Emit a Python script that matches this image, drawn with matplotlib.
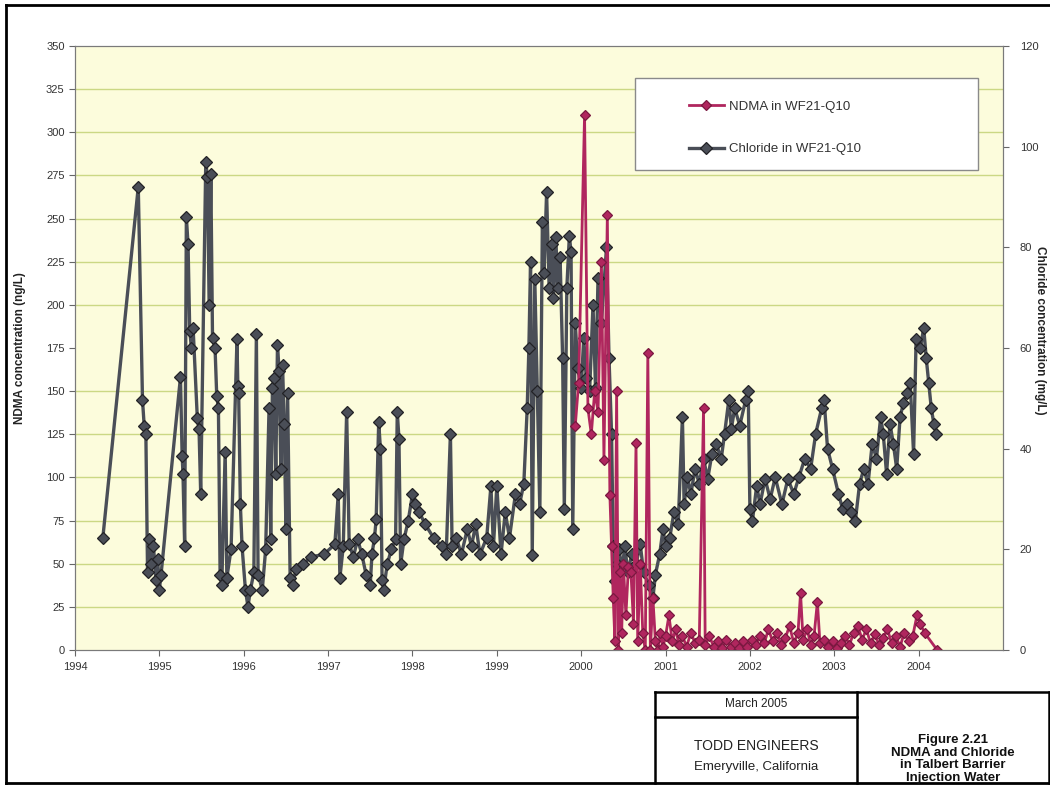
import matplotlib.pyplot as plt
from matplotlib.patches import Rectangle
from matplotlib.lines import Line2D
from matplotlib.ticker import FixedLocator, NullFormatter

plt.rcParams['font.family'] = ['Liberation Sans', 'DejaVu Sans']

# Chloride in WF21-Q10 (mg/L), decimal years
cl_year = [1994.33, 1994.75, 1994.80, 1994.82, 1994.84, 1994.86, 1994.88, 1994.90, 1994.93, 1994.96,
           1994.98, 1995.00, 1995.02, 1995.25, 1995.27, 1995.28, 1995.30, 1995.32, 1995.34, 1995.36,
           1995.38, 1995.40, 1995.45, 1995.47, 1995.49, 1995.55, 1995.57, 1995.59, 1995.61, 1995.63,
           1995.66, 1995.68, 1995.70, 1995.72, 1995.74, 1995.78, 1995.80, 1995.85, 1995.92, 1995.93,
           1995.94, 1995.96, 1995.98, 1996.02, 1996.05, 1996.08, 1996.12, 1996.15, 1996.17, 1996.22,
           1996.26, 1996.30, 1996.32, 1996.34, 1996.36, 1996.38, 1996.40, 1996.42, 1996.44, 1996.46,
           1996.48, 1996.50, 1996.52, 1996.55, 1996.58, 1996.62, 1996.70, 1996.80, 1996.95, 1997.08,
           1997.12, 1997.14, 1997.18, 1997.22, 1997.25, 1997.30, 1997.35, 1997.40, 1997.45, 1997.50,
           1997.52, 1997.55, 1997.57, 1997.60, 1997.62, 1997.64, 1997.66, 1997.70, 1997.75, 1997.80,
           1997.82, 1997.84, 1997.86, 1997.90, 1997.95, 1998.00, 1998.03, 1998.08, 1998.15, 1998.25,
           1998.35, 1998.40, 1998.45, 1998.47, 1998.52, 1998.58, 1998.65, 1998.70, 1998.75, 1998.80,
           1998.88, 1998.93, 1998.96, 1999.00, 1999.05, 1999.10, 1999.15, 1999.22, 1999.27, 1999.32,
           1999.36, 1999.38, 1999.40, 1999.42, 1999.45, 1999.48, 1999.51, 1999.54, 1999.56, 1999.59,
           1999.62, 1999.65, 1999.67, 1999.70, 1999.72, 1999.75, 1999.78, 1999.80, 1999.83, 1999.86,
           1999.88, 1999.90, 1999.93, 1999.96, 2000.00, 2000.03, 2000.06, 2000.10, 2000.14, 2000.17,
           2000.20, 2000.24, 2000.30, 2000.33, 2000.36, 2000.38, 2000.40, 2000.42, 2000.45, 2000.48,
           2000.52, 2000.55, 2000.60, 2000.65, 2000.70, 2000.74, 2000.80, 2000.85, 2000.88, 2000.93,
           2000.97, 2001.00, 2001.05, 2001.10, 2001.15, 2001.20, 2001.22, 2001.26, 2001.30, 2001.35,
           2001.40, 2001.45, 2001.50, 2001.55, 2001.60, 2001.66, 2001.70, 2001.75, 2001.78, 2001.82,
           2001.88, 2001.95, 2001.98, 2002.00, 2002.03, 2002.08, 2002.12, 2002.18, 2002.24, 2002.30,
           2002.38, 2002.45, 2002.52, 2002.58, 2002.65, 2002.72, 2002.78, 2002.85, 2002.88, 2002.92,
           2002.98, 2003.05, 2003.10, 2003.15, 2003.20, 2003.25, 2003.30, 2003.35, 2003.40, 2003.45,
           2003.50, 2003.55, 2003.58, 2003.62, 2003.66, 2003.70, 2003.74, 2003.78, 2003.82, 2003.86,
           2003.90, 2003.94, 2003.97, 2004.02, 2004.06, 2004.09, 2004.12, 2004.15, 2004.18, 2004.21]
cl_val = [22.3, 92.0, 49.7, 44.6, 43.0, 15.4, 22.0, 17.0, 20.6, 14.0,
          18.0, 12.0, 15.0, 54.2, 38.5, 35.0, 20.6, 86.0, 80.6, 63.4,
          60.0, 64.0, 46.0, 44.0, 31.0, 97.0, 94.0, 68.6, 94.5, 62.0,
          60.0, 50.5, 48.0, 15.0, 13.0, 39.4, 14.4, 20.0, 61.7, 52.5,
          51.0, 29.0, 20.6, 12.0, 8.6, 12.0, 15.4, 62.8, 15.0, 12.0,
          20.0, 48.0, 22.0, 52.0, 54.0, 35.0, 60.5, 55.5, 36.0, 56.6,
          45.0, 24.0, 51.0, 14.4, 13.0, 16.0, 17.0, 18.5, 19.0, 21.0,
          30.9, 14.4, 20.6, 47.3, 21.0, 18.5, 22.0, 19.0, 15.0, 13.0,
          19.0, 22.3, 26.0, 45.3, 40.0, 14.0, 12.0, 17.0, 20.0, 22.0,
          47.3, 42.0, 17.0, 22.0, 25.7, 30.9, 29.0, 27.4, 25.0, 22.3,
          20.6, 19.0, 43.0, 20.6, 22.3, 19.0, 24.0, 20.6, 25.0, 19.0,
          22.3, 32.6, 20.6, 32.6, 19.0, 27.4, 22.3, 30.9, 29.0, 33.0,
          48.0, 60.0, 77.1, 18.9, 73.7, 51.4, 27.4, 85.0, 75.0, 90.9,
          72.0, 80.6, 70.0, 82.0, 72.0, 78.0, 58.0, 28.0, 72.0, 82.3,
          79.0, 24.0, 65.0, 56.0, 52.0, 62.0, 54.0, 51.4, 68.6, 52.0,
          74.0, 65.0, 80.0, 58.0, 43.0, 20.6, 13.7, 17.0, 20.0, 16.0,
          20.6, 15.4, 19.0, 17.0, 21.0, 15.4, 13.0, 10.3, 15.0, 19.0,
          24.0, 20.6, 22.3, 27.4, 25.0, 46.3, 29.0, 34.3, 31.0, 36.0,
          33.0, 38.0, 34.0, 39.0, 41.0, 38.0, 43.0, 49.7, 44.0, 48.0,
          44.6, 49.7, 51.4, 28.0, 25.7, 32.6, 29.0, 34.0, 30.0, 34.3,
          29.0, 34.0, 31.0, 34.3, 38.0, 36.0, 43.0, 48.0, 49.7, 40.0,
          36.0, 31.0, 28.0, 29.0, 27.4, 25.7, 33.0, 36.0, 33.0, 41.0,
          38.0, 46.3, 43.0, 35.0, 45.0, 41.0, 36.0, 46.3, 49.0, 51.0,
          53.0, 39.0, 61.7, 60.0, 64.0, 58.0, 53.0, 48.0, 45.0, 43.0]

# NDMA in WF21-Q10 (ng/L)
nd_year = [1999.93, 1999.97, 2000.04, 2000.08, 2000.12, 2000.16, 2000.20, 2000.24, 2000.27, 2000.31,
           2000.34, 2000.36, 2000.38, 2000.40, 2000.42, 2000.44, 2000.46, 2000.48, 2000.50, 2000.53,
           2000.56, 2000.59, 2000.62, 2000.65, 2000.67, 2000.70, 2000.73, 2000.76, 2000.79, 2000.82,
           2000.85, 2000.88, 2000.91, 2000.94, 2000.97, 2001.00, 2001.04, 2001.08, 2001.12, 2001.16,
           2001.20, 2001.25, 2001.30, 2001.35, 2001.40, 2001.45, 2001.47, 2001.52, 2001.57, 2001.62,
           2001.67, 2001.72, 2001.77, 2001.82, 2001.87, 2001.92, 2001.97, 2002.02, 2002.07, 2002.12,
           2002.17, 2002.22, 2002.27, 2002.32, 2002.37, 2002.42, 2002.47, 2002.52, 2002.57, 2002.60,
           2002.63, 2002.68, 2002.72, 2002.76, 2002.80, 2002.83, 2002.88, 2002.93, 2002.98, 2003.03,
           2003.08, 2003.13, 2003.18, 2003.23, 2003.28, 2003.33, 2003.38, 2003.43, 2003.48, 2003.53,
           2003.58, 2003.63, 2003.68, 2003.73, 2003.78, 2003.83, 2003.88, 2003.93, 2003.98, 2004.02,
           2004.07, 2004.22]
nd_val = [130, 155, 310, 140, 125, 150, 138, 225, 110, 252,
          90, 60, 30, 5, 150, 0, 45, 10, 50, 20,
          48, 45, 15, 120, 5, 50, 10, 0, 172, 0,
          30, 5, 0, 10, 2, 8, 20, 5, 12, 3,
          8, 2, 10, 4, 6, 140, 3, 8, 2, 5,
          1, 6, 2, 4, 1, 5, 2, 6, 3, 8,
          4, 12, 5, 10, 3, 7, 14, 4, 10, 33,
          6, 12, 3, 8, 28, 4, 6, 2, 5, 1,
          4, 8, 3, 10, 14, 6, 12, 4, 9, 3,
          7, 12, 4, 8, 2, 10, 5, 8, 20, 15,
          10, 0]

year_ticks = list(range(1994, 2005))
ndma_ticks = list(range(0, 351, 25))
cl_ticks = list(range(0, 121, 20))

W, H = 1050, 785
fig = plt.figure(figsize=(W / 100, H / 100), dpi=100)


def fx(x):
    return x / W


def fy(y):
    return 1 - y / H


ax = fig.add_axes([fx(75), fy(650), (1003 - 75) / W, (650 - 46) / H])
ax2 = ax.twinx()
# NDMA drawn on top, background + grid carried by the chloride axes
ax.set_zorder(ax2.get_zorder() + 1)
ax.patch.set_visible(False)
ax2.patch.set_visible(True)
ax2.patch.set_facecolor('#fcfcdc')

gray = '#4a4e57'
red = '#b0265e'
l_cl, = ax2.plot(cl_year, cl_val, color=gray, lw=2.4, marker='D', ms=6,
                 mfc=gray, mec='#222226', mew=0.9, label='Chloride in WF21-Q10')
l_nd, = ax.plot(nd_year, nd_val, color=red, lw=2.0, marker='D', ms=5.5,
                mfc=red, mec='#7a1840', mew=0.9, label='NDMA in WF21-Q10')

ax.set_xlim(1994, 2005)
ax.set_ylim(0, 350)
ax2.set_ylim(0, 120)

ax.set_xticks(year_ticks)
ax.set_yticks(ndma_ticks)
ax2.set_yticks(cl_ticks)

# horizontal grid at the NDMA ticks, drawn behind everything
ax2.yaxis.set_minor_locator(FixedLocator([v * 120 / 350 for v in ndma_ticks]))
ax2.yaxis.set_minor_formatter(NullFormatter())
ax2.tick_params(axis='y', which='minor', length=0)
ax2.grid(which='minor', axis='y', color='#cbd884', lw=1.0)

for a in (ax, ax2):
    for s in a.spines.values():
        s.set_color('#7a7a7a')
ax.tick_params(axis='both', direction='out', length=4, width=0.8, color='#666666',
               labelsize=8, labelcolor='#333333')
ax.tick_params(axis='x', pad=5)
ax2.tick_params(axis='y', which='major', direction='out', length=4, width=0.8,
                color='#666666', labelsize=8, labelcolor='#333333', pad=8)

ax.set_ylabel('NDMA concentration (ng/L)', fontsize=8.5, fontweight='bold', color='#222222')
ax.yaxis.set_label_coords(-0.053, 0.5)
ax2.set_ylabel('Chloride concentration (mg/L)', fontsize=8.5, fontweight='bold',
               color='#222222', rotation=270, va='center')
ax2.yaxis.set_label_coords(1.04, 0.53)

# legend box
ax.add_patch(Rectangle((0.603, 0.795), 0.37, 0.152, transform=ax.transAxes,
                       facecolor='white', edgecolor='#8a8a8a', lw=1.0, zorder=4))
ax.legend(handles=[l_nd, l_cl], loc='upper left', bbox_to_anchor=(0.654, 0.921),
          frameon=False, fontsize=9.5, borderpad=0, handlelength=2.7,
          handletextpad=0.4, labelspacing=2.3, labelcolor='#333333')

# outer border of the sheet
for (x0, y0, x1, y1) in [(6, 5, 6, 783), (6, 5, 1050, 5), (6, 783, 1050, 783)]:
    fig.add_artist(Line2D([fx(x0), fx(x1)], [fy(y0), fy(y1)], color='black', lw=2))

# title block
for (x0, y0, x1, y1) in [(655, 692, 1049, 692), (655, 692, 655, 783), (1049, 692, 1049, 783),
                         (857, 692, 857, 783), (655, 717, 857, 717)]:
    fig.add_artist(Line2D([fx(x0), fx(x1)], [fy(y0), fy(y1)], color='black', lw=1.8))

fig.text(fx(756), fy(704), 'March 2005', ha='center', va='center', fontsize=8.5, color='#222222')
fig.text(fx(756), fy(746), 'TODD ENGINEERS', ha='center', va='center', fontsize=10, color='#222222')
fig.text(fx(756), fy(767), 'Emeryville, California', ha='center', va='center', fontsize=9.5,
         color='#222222')
fig.text(fx(953), fy(759), 'Figure 2.21\nNDMA and Chloride\nin Talbert Barrier\nInjection Water',
         ha='center', va='center', fontsize=9.5, fontweight='bold', color='#111111', linespacing=1.1)

fig.savefig('out.png', dpi=100)
